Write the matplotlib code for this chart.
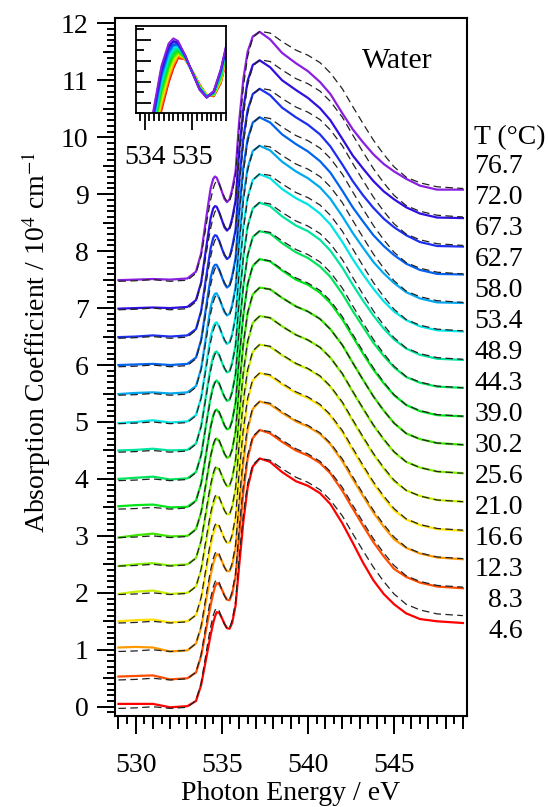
import numpy as np
import matplotlib
matplotlib.use('Agg')
import matplotlib.pyplot as plt
from matplotlib.ticker import MultipleLocator, NullFormatter
from matplotlib.transforms import blended_transform_factory

plt.rcParams['font.family'] = ['Liberation Serif', 'DejaVu Serif']
plt.rcParams['mathtext.fontset'] = 'stix'

# photon energy grid (eV)
energy = [529.0, 530.0, 531.0, 532.0, 533.0, 533.5, 533.8, 534.0, 534.2, 534.35,
          534.5, 534.6, 534.7, 534.85, 535.0, 535.15, 535.3, 535.45, 535.6, 535.8,
          536.0, 536.25, 536.5, 536.8, 537.2, 537.8, 538.5, 539.3, 540.0, 540.7,
          541.3, 542.0, 542.6, 543.2, 543.8, 544.4, 545.0, 545.7, 546.5, 547.5, 549.0]

temps = ['4.6', '8.3', '12.3', '16.6', '21.0', '25.6', '30.2', '39.0',
         '44.3', '48.9', '53.4', '58.0', '62.7', '67.3', '72.0', '76.7']

# dashed reference spectrum (drawn under every curve)
ref_dashed = [-0.03, -0.02, 0.00, -0.03, -0.01,
              0.11, 0.42, 0.78, 1.15, 1.40, 1.60, 1.69, 1.73, 1.68, 1.56, 1.45, 1.37, 1.38,
              1.52, 1.84, 2.60, 3.38, 3.92, 4.25, 4.36,
              4.33, 4.18, 4.03, 3.94, 3.81, 3.63, 3.35, 3.04, 2.74, 2.45, 2.20, 1.98, 1.80, 1.70, 1.63, 1.60]

# absorption coefficient (10^4 cm^-1), no offset
spec_4_6 = [0.05, 0.05, 0.05, -0.01, 0.01,
            0.10, 0.38, 0.70, 1.02, 1.26, 1.47, 1.58, 1.66, 1.65, 1.56, 1.46, 1.38, 1.37, 1.47, 1.78, 2.45, 3.25, 3.85, 4.22, 4.36,
            4.30, 4.12, 3.96, 3.88, 3.75, 3.56, 3.22, 2.88, 2.53, 2.22, 1.98, 1.80, 1.64, 1.54, 1.50, 1.47]
spec_8_3 = [0.03, 0.04, 0.05, -0.02, 0.00,
            0.10, 0.39, 0.71, 1.04, 1.28, 1.49, 1.60, 1.67, 1.65, 1.56, 1.46, 1.38, 1.37, 1.48, 1.79, 2.47, 3.27, 3.86, 4.22, 4.36,
            4.30, 4.15, 4.00, 3.91, 3.78, 3.60, 3.29, 2.98, 2.68, 2.39, 2.14, 1.92, 1.78, 1.68, 1.61, 1.58]
spec_12_3 = [0.04, 0.05, 0.04, -0.03, -0.01,
             0.11, 0.39, 0.72, 1.06, 1.31, 1.51, 1.61, 1.68, 1.65, 1.56, 1.45, 1.38, 1.38, 1.48, 1.79, 2.49, 3.29, 3.87, 4.23, 4.36,
             4.31, 4.16, 4.01, 3.92, 3.79, 3.61, 3.31, 3.00, 2.70, 2.41, 2.16, 1.94, 1.79, 1.69, 1.62, 1.59]
spec_16_6 = [0.00, 0.02, 0.03, -0.02, 0.00,
             0.11, 0.40, 0.74, 1.08, 1.33, 1.53, 1.63, 1.69, 1.66, 1.56, 1.45, 1.38, 1.38, 1.49, 1.80, 2.51, 3.30, 3.88, 4.23, 4.36,
             4.31, 4.16, 4.01, 3.92, 3.79, 3.61, 3.32, 3.01, 2.71, 2.42, 2.17, 1.95, 1.79, 1.69, 1.62, 1.59]
spec_21_0 = [-0.02, 0.02, 0.04, -0.02, 0.00,
             0.11, 0.40, 0.75, 1.09, 1.35, 1.55, 1.64, 1.69, 1.66, 1.56, 1.45, 1.38, 1.38, 1.50, 1.81, 2.53, 3.32, 3.89, 4.23, 4.36,
             4.32, 4.17, 4.02, 3.93, 3.80, 3.62, 3.33, 3.02, 2.72, 2.43, 2.18, 1.96, 1.80, 1.70, 1.63, 1.60]
spec_25_6 = [-0.03, 0.00, 0.02, -0.02, 0.00,
             0.11, 0.41, 0.76, 1.11, 1.37, 1.57, 1.66, 1.70, 1.66, 1.56, 1.45, 1.37, 1.38, 1.51, 1.82, 2.55, 3.34, 3.90, 4.24, 4.36,
             4.33, 4.18, 4.03, 3.94, 3.81, 3.63, 3.34, 3.03, 2.73, 2.44, 2.19, 1.97, 1.80, 1.70, 1.63, 1.60]
spec_30_2 = [-0.03, 0.01, 0.04, -0.01, 0.00,
             0.12, 0.41, 0.77, 1.13, 1.40, 1.59, 1.67, 1.71, 1.66, 1.56, 1.44, 1.37, 1.39, 1.51, 1.83, 2.57, 3.36, 3.91, 4.24, 4.36,
             4.33, 4.18, 4.03, 3.94, 3.81, 3.63, 3.35, 3.04, 2.74, 2.45, 2.20, 1.98, 1.80, 1.70, 1.63, 1.60]
spec_39_0 = [0.02, 0.04, 0.05, 0.00, 0.01,
             0.12, 0.42, 0.78, 1.15, 1.42, 1.61, 1.69, 1.72, 1.66, 1.56, 1.44, 1.37, 1.39, 1.52, 1.84, 2.59, 3.38, 3.92, 4.24, 4.36,
             4.32, 4.16, 4.00, 3.91, 3.77, 3.59, 3.30, 3.00, 2.70, 2.42, 2.18, 1.97, 1.80, 1.69, 1.62, 1.60]
spec_44_3 = [0.00, 0.02, 0.04, -0.01, 0.01,
             0.12, 0.42, 0.80, 1.17, 1.44, 1.63, 1.70, 1.73, 1.67, 1.55, 1.44, 1.37, 1.39, 1.53, 1.84, 2.61, 3.39, 3.93, 4.25, 4.35,
             4.31, 4.14, 3.98, 3.88, 3.73, 3.55, 3.25, 2.95, 2.67, 2.39, 2.16, 1.96, 1.79, 1.69, 1.62, 1.60]
spec_48_9 = [0.00, 0.01, 0.03, 0.00, 0.01,
             0.12, 0.43, 0.81, 1.19, 1.46, 1.65, 1.72, 1.74, 1.67, 1.55, 1.44, 1.37, 1.39, 1.54, 1.85, 2.63, 3.41, 3.94, 4.25, 4.35,
             4.29, 4.11, 3.95, 3.85, 3.70, 3.51, 3.21, 2.91, 2.63, 2.37, 2.14, 1.95, 1.79, 1.68, 1.61, 1.59]
spec_53_4 = [-0.02, 0.00, 0.03, -0.01, 0.01,
             0.12, 0.43, 0.82, 1.21, 1.49, 1.67, 1.73, 1.75, 1.67, 1.55, 1.43, 1.37, 1.40, 1.54, 1.86, 2.65, 3.43, 3.95, 4.25, 4.35,
             4.28, 4.09, 3.93, 3.82, 3.66, 3.47, 3.16, 2.86, 2.59, 2.34, 2.12, 1.94, 1.79, 1.68, 1.61, 1.59]
spec_58_0 = [-0.01, 0.01, 0.02, 0.00, 0.02,
             0.13, 0.44, 0.83, 1.23, 1.51, 1.69, 1.75, 1.76, 1.67, 1.55, 1.43, 1.37, 1.40, 1.55, 1.87, 2.67, 3.45, 3.96, 4.26, 4.35,
             4.27, 4.07, 3.90, 3.78, 3.62, 3.42, 3.11, 2.82, 2.56, 2.31, 2.11, 1.94, 1.78, 1.67, 1.60, 1.59]
spec_62_7 = [0.00, 0.01, 0.02, 0.00, 0.02,
             0.13, 0.44, 0.84, 1.24, 1.53, 1.71, 1.76, 1.76, 1.67, 1.55, 1.43, 1.36, 1.40, 1.56, 1.88, 2.69, 3.47, 3.97, 4.26, 4.35,
             4.26, 4.05, 3.88, 3.75, 3.58, 3.38, 3.06, 2.77, 2.52, 2.28, 2.09, 1.93, 1.78, 1.67, 1.60, 1.59]
spec_67_3 = [-0.01, 0.00, 0.02, 0.00, 0.02,
             0.13, 0.45, 0.86, 1.26, 1.55, 1.73, 1.78, 1.77, 1.68, 1.55, 1.43, 1.36, 1.40, 1.57, 1.88, 2.71, 3.48, 3.98, 4.26, 4.35,
             4.24, 4.02, 3.85, 3.72, 3.55, 3.34, 3.02, 2.73, 2.48, 2.26, 2.07, 1.92, 1.78, 1.66, 1.59, 1.58]
spec_72_0 = [-0.01, 0.00, 0.01, 0.00, 0.02,
             0.14, 0.45, 0.87, 1.28, 1.58, 1.75, 1.79, 1.78, 1.68, 1.55, 1.42, 1.36, 1.41, 1.57, 1.89, 2.73, 3.50, 3.99, 4.27, 4.35,
             4.23, 4.00, 3.83, 3.69, 3.51, 3.30, 2.97, 2.68, 2.45, 2.23, 2.05, 1.91, 1.77, 1.66, 1.59, 1.58]
spec_76_7 = [-0.01, 0.00, 0.01, 0.00, 0.02,
             0.14, 0.46, 0.88, 1.30, 1.60, 1.77, 1.81, 1.79, 1.68, 1.55, 1.42, 1.36, 1.41, 1.58, 1.90, 2.75, 3.52, 4.00, 4.27, 4.35,
             4.22, 3.98, 3.80, 3.66, 3.47, 3.26, 2.92, 2.64, 2.41, 2.20, 2.03, 1.90, 1.77, 1.65, 1.58, 1.58]

spectra = [spec_4_6, spec_8_3, spec_12_3, spec_16_6, spec_21_0, spec_25_6, spec_30_2, spec_39_0,
           spec_44_3, spec_48_9, spec_53_4, spec_58_0, spec_62_7, spec_67_3, spec_72_0, spec_76_7]

colors = ['#ff0000', '#ff4d00', '#ff9900', '#ffe100', '#c8f000', '#80f000', '#3ce600', '#00e61a',
          '#00e65c', '#00e6a1', '#00e6e6', '#00a8f0', '#0064f0', '#1c2ef0', '#2e10e0', '#8a1fe0']

offset_step = 0.5
fs = 20

fig = plt.figure(figsize=(5.48, 8.07), dpi=100)
ax = fig.add_axes([0.2099, 0.1131, 0.6418, 0.8642])

ref = np.array(ref_dashed)
for i, (spec, col) in enumerate(zip(spectra, colors)):
    off = i * offset_step
    ax.plot(energy, np.array(spec) + off, color=col, lw=1.6, zorder=2)
    ax.plot(energy, ref + off, color='#222222', lw=0.9, ls=(0, (6, 3.5)), zorder=3)

ax.set_xlim(528.8, 549.22)
ax.set_ylim(-0.158, 12.088)

ax.xaxis.set_major_locator(MultipleLocator(5))
ax.xaxis.set_minor_locator(MultipleLocator(0.5))
ax.yaxis.set_major_locator(MultipleLocator(1))
ax.yaxis.set_minor_locator(MultipleLocator(0.1))
ax.tick_params(which='both', direction='out', width=1.4, top=False, right=False)
ax.tick_params(which='major', length=13, labelsize=fs)
ax.tick_params(which='minor', length=5.5)
ax.tick_params(axis='x', which='major', pad=14)
ax.tick_params(axis='y', which='major', pad=6)
for sp in ax.spines.values():
    sp.set_linewidth(1.5)

# intermediate tick level (every 1 eV, every 0.5 units)
secx = ax.secondary_xaxis('bottom')
secx.xaxis.set_major_locator(MultipleLocator(1))
secx.xaxis.set_major_formatter(NullFormatter())
secx.tick_params(length=9, width=1.4, direction='out')
secx.spines['bottom'].set_visible(False)

secy = ax.secondary_yaxis('left')
secy.yaxis.set_major_locator(MultipleLocator(0.5))
secy.yaxis.set_major_formatter(NullFormatter())
secy.tick_params(length=9, width=1.4, direction='out')
secy.spines['left'].set_visible(False)

ax.set_xlabel('Photon Energy / eV', fontsize=fs)
ax.xaxis.set_label_coords(0.5, -0.094)
ax.set_ylabel(r'Absorption Coefficient / 10$^{4}$ cm$^{-1}$', fontsize=fs)
ax.yaxis.set_label_coords(-0.177, 0.536)

# temperature column on the right
trans = blended_transform_factory(ax.transAxes, ax.transData)
label_y0, label_step = 1.317, 0.5444
for i, t in enumerate(temps):
    ax.text(1.16, label_y0 + i * label_step, t, transform=trans, fontsize=fs,
            ha='right', va='center', clip_on=False)
ax.text(1.022, label_y0 + len(temps) * label_step - 0.03, 'T (°C)', transform=trans,
        fontsize=fs, ha='left', va='center', clip_on=False)

ax.text(0.802, 11.33, 'Water', transform=trans, fontsize=21.5, ha='center', va='center')

# inset: pre-edge region without offsets
axin = fig.add_axes([0.2476, 0.8596, 0.1642, 0.1085])
for spec, col in zip(spectra, colors):
    axin.plot(energy, spec, color=col, lw=1.4)
axin.set_xlim(533.81, 535.70)
axin.set_ylim(1.24, 1.906)
axin.xaxis.set_major_locator(MultipleLocator(1))
axin.xaxis.set_minor_locator(MultipleLocator(0.1))
axin.yaxis.set_major_locator(MultipleLocator(0.16, offset=0.04))
axin.yaxis.set_minor_locator(MultipleLocator(0.08, offset=0.04))
axin.yaxis.set_major_formatter(NullFormatter())
axin.tick_params(axis='y', which='both', direction='in', width=1.3)
axin.tick_params(axis='y', which='major', length=11)
axin.tick_params(axis='y', which='minor', length=6)
axin.tick_params(axis='x', which='both', direction='out', width=1.3)
axin.tick_params(axis='x', which='major', length=12, labelsize=fs, pad=11)
axin.tick_params(axis='x', which='minor', length=6)
for sp in axin.spines.values():
    sp.set_linewidth(1.3)

fig.savefig('out.png', dpi=100)
